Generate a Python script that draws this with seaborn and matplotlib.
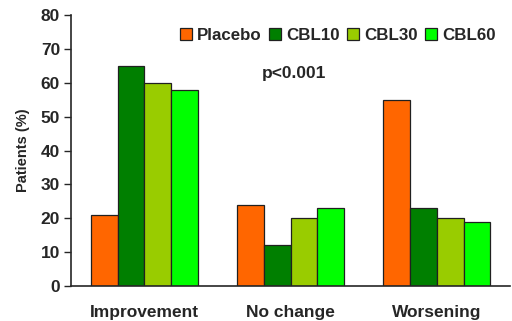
import pandas as pd
import matplotlib
matplotlib.use("Agg")
import matplotlib.pyplot as plt
import seaborn as sns

# data
outcomes = ["Improvement", "No change", "Worsening"]
groups = ["Placebo", "CBL10", "CBL30", "CBL60"]
placebo = [21, 24, 55]
cbl10 = [65, 12, 23]
cbl30 = [60, 20, 20]
cbl60 = [58, 23, 19]
colors = ["#FF6600", "#007F00", "#99CC00", "#00FF00"]

rows = []
for g, vals in zip(groups, [placebo, cbl10, cbl30, cbl60]):
    for o, v in zip(outcomes, vals):
        rows.append({"outcome": o, "group": g, "pct": v})
df = pd.DataFrame(rows)

sns.set_style("white")
plt.rcParams["font.family"] = ["Liberation Sans", "DejaVu Sans"]
plt.rcParams["font.weight"] = "bold"

fig = plt.figure(figsize=(5.12, 3.21), dpi=100)
ax = fig.add_axes([0.139, 0.109, 0.857, 0.844])

sns.barplot(data=df, x="outcome", y="pct", hue="group", hue_order=groups,
            order=outcomes, palette=colors, width=0.73, gap=0,
            edgecolor="#202020", linewidth=0.9, saturation=1, ax=ax)

ax.set_xlim(-0.5, 2.5)
ax.set_ylim(0, 80)
ax.set_yticks(range(0, 81, 10))
ax.tick_params(axis="y", direction="out", length=5, width=1, labelsize=12.5, pad=3, left=True)
ax.tick_params(axis="x", length=0, labelsize=12.5, pad=14)
for lbl in ax.get_xticklabels() + ax.get_yticklabels():
    lbl.set_fontweight("bold")
sns.despine(ax=ax)
ax.spines["left"].set_linewidth(1.2)
ax.spines["bottom"].set_linewidth(1.2)
ax.set_xlabel("")
ax.set_ylabel("Patients (%)", fontsize=10.5, fontweight="bold", labelpad=8)

ax.text(0.435, 0.786, "p<0.001", transform=ax.transAxes, fontsize=12.5,
        fontweight="bold", va="center")

ax.legend(loc="upper right", bbox_to_anchor=(0.995, 0.995), ncol=4, frameon=False,
          handlelength=0.7, handleheight=0.7, handletextpad=0.3, columnspacing=0.45,
          prop={"weight": "bold", "size": 12.2}, borderaxespad=0.3)

fig.savefig("out.png", dpi=100)
